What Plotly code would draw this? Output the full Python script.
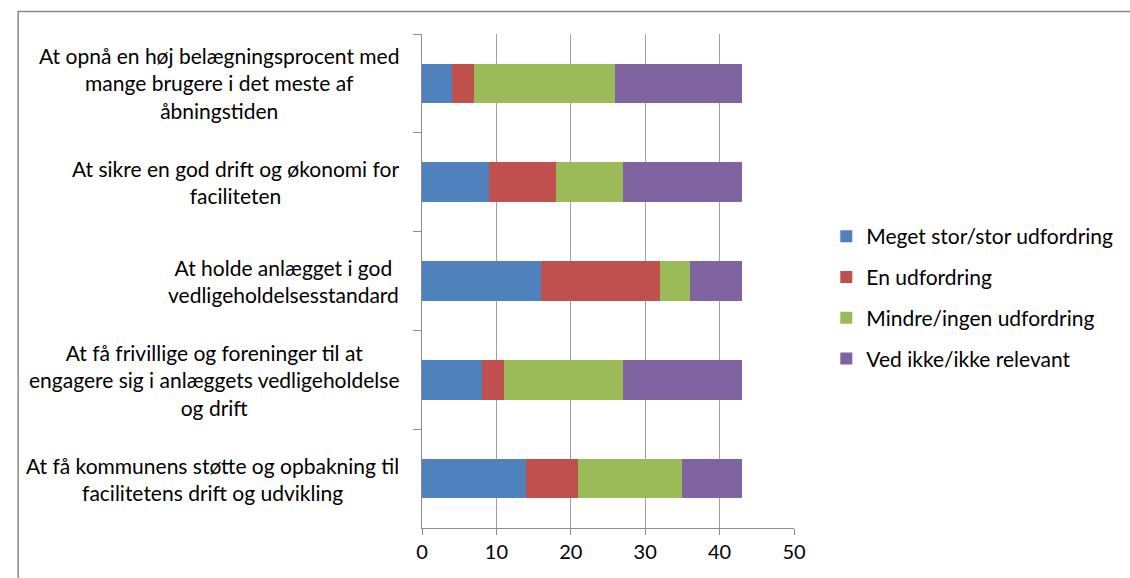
import plotly.graph_objects as go

categories = [
    "At opnå en høj belægningsprocent med<br>mange brugere i det meste af<br>åbningstiden",
    "At sikre en god drift og økonomi for<br>faciliteten",
    "At holde anlægget i god<br>vedligeholdelsesstandard",
    "At få frivillige og foreninger til at<br>engagere sig i anlæggets vedligeholdelse<br>og drift",
    "At få kommunens støtte og opbakning til<br>facilitetens drift og udvikling",
]
series_names = [
    "Meget stor/stor udfordring",
    "En udfordring",
    "Mindre/ingen udfordring",
    "Ved ikke/ikke relevant",
]
meget_stor = [4, 9, 16, 8, 14]
en_udfordring = [3, 9, 16, 3, 7]
mindre_ingen = [19, 9, 4, 16, 14]
ved_ikke = [17, 16, 7, 16, 8]
x_ticks = [0, 10, 20, 30, 40, 50]

series_values = [meget_stor, en_udfordring, mindre_ingen, ved_ikke]
colors = ["#4F81BD", "#C0504D", "#9BBB59", "#8064A2"]

W, H = 1130, 578
L, R, T, B = 422, 802, 34, 528
FONT = "Lato"


def px_x(px):
    return (px - L) / (R - L)


def px_y(py):
    return (B - py) / (B - T)


fig = go.Figure()
for i, (name, vals) in enumerate(zip(series_names, series_values)):
    fig.add_trace(go.Bar(
        y=categories, x=vals, name=name, orientation="h",
        marker=dict(color=colors[i], line=dict(width=0)),
        legendgroup=f"g{i}",
    ))

annotations = []
for c in categories:
    annotations.append(dict(
        x=px_x(401), xref="paper", y=c, yref="y",
        text=c, showarrow=False, xanchor="right", yanchor="middle",
        align="center", font=dict(family=FONT, size=21, color="#000000"),
    ))

shapes = [dict(
    type="rect", xref="paper", yref="paper",
    x0=px_x(9.5), x1=px_x(1200), y0=px_y(700), y1=px_y(11.5),
    line=dict(color="#8a8a8a", width=1.5), layer="below",
)]

fig.update_layout(
    width=W, height=H,
    margin=dict(l=L, r=W - R, t=T, b=H - B, pad=0),
    barmode="stack", bargap=0.6,
    plot_bgcolor="white", paper_bgcolor="white",
    font=dict(family=FONT, size=21, color="#000000"),
    showlegend=True,
    legend=dict(
        x=px_x(835), y=px_y(216), xanchor="left", yanchor="top",
        font=dict(family=FONT, size=21, color="#000000"),
        tracegroupgap=10.5, traceorder="grouped",
        bgcolor="rgba(0,0,0,0)",
    ),
    xaxis=dict(
        range=[0, 50], tickvals=x_ticks, ticktext=[str(v) for v in x_ticks],
        showgrid=True, gridcolor="#a0a0a0", gridwidth=1,
        showline=True, linecolor="#8c8c8c", linewidth=1,
        ticks="outside", ticklen=6, tickcolor="#8c8c8c",
        zeroline=False, tickfont=dict(family=FONT, size=20),
    ),
    yaxis=dict(
        autorange="reversed", type="category", categoryorder="array",
        categoryarray=categories,
        showticklabels=False, ticks="outside", ticklen=8, tickcolor="#8c8c8c",
        tickson="boundaries", showgrid=False,
        showline=True, linecolor="#8c8c8c", linewidth=1,
    ),
    annotations=annotations, shapes=shapes,
)

fig.write_html(
    "out.html",
    config={"displayModeBar": False},
    post_script="document.body.style.margin='0';document.body.style.overflow='hidden';",
)
